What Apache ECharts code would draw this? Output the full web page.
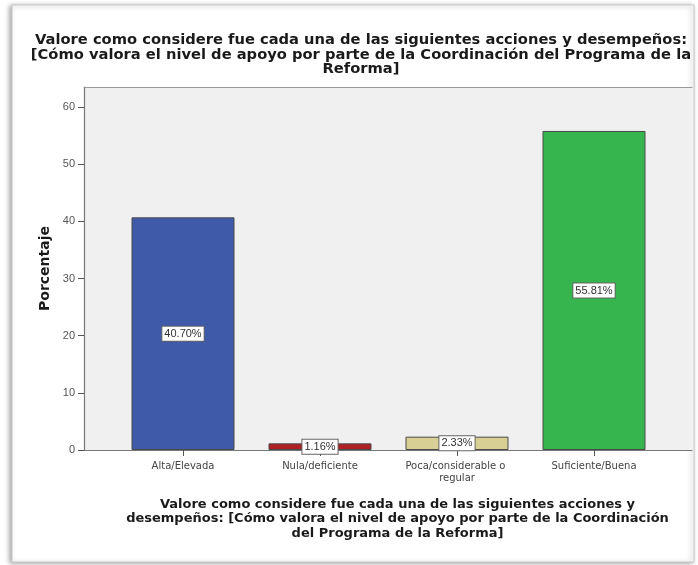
<!DOCTYPE html>
<html>
<head>
<meta charset="utf-8">
<script src="https://cdn.jsdelivr.net/npm/echarts@6/dist/echarts.min.js"></script>
<style>
  html, body { margin: 0; padding: 0; background: #ffffff; }
  #chart { width: 698px; height: 565px; }
</style>
</head>
<body>
<div id="chart"></div>
<script>
// Categories, percentages and axis ticks
const categories = ['Alta/Elevada', 'Nula/deficiente', 'Poca/considerable o regular', 'Suficiente/Buena'];
const percentages = [40.70, 1.16, 2.33, 55.81];
const barColors = ['#3f5aa9', '#b01f23', '#d8cf95', '#36b54f'];
const yTicks = [0, 10, 20, 30, 40, 50, 60];

const titleText = 'Valore como considere fue cada una de las siguientes acciones y desempeños:\n[Cómo valora el nivel de apoyo por parte de la Coordinación del Programa de la\nReforma]';
const xNameText = 'Valore como considere fue cada una de las siguientes acciones y\ndesempeños: [Cómo valora el nivel de apoyo por parte de la Coordinación\ndel Programa de la Reforma]';

const FONT = '"Liberation Sans", Arial, sans-serif';
const WIDE = '"DejaVu Sans", Verdana, sans-serif';
const Y_MAX = 63.5;

const chart = echarts.init(document.getElementById('chart'), null, { renderer: 'canvas' });

chart.setOption({
  backgroundColor: '#ffffff',
  animation: false,
  graphic: [
    {
      // panel frame
      type: 'rect',
      z: -10,
      shape: { x: 12, y: 5, width: 682, height: 557 },
      style: {
        fill: '#ffffff', stroke: '#c8c8c8', lineWidth: 1,
        shadowBlur: 5, shadowColor: 'rgba(0,0,0,0.35)', shadowOffsetX: -2, shadowOffsetY: 1
      }
    },
    {
      // chart title
      type: 'text',
      x: 361,
      y: 33,
      style: {
        text: titleText,
        align: 'center',
        verticalAlign: 'top',
        font: 'bold 14.7px ' + WIDE,
        lineHeight: 14.5,
        fill: '#1a1a1a'
      }
    }
  ],
  grid: [
    // plot frame with the value axis
    { left: 84, right: 6, top: 87, bottom: 115, show: true, backgroundColor: '#f0f0f0', borderWidth: 0 },
    // inner band holding the bars
    { left: 114.5, width: 548, top: 87, bottom: 115 }
  ],
  xAxis: [
    { gridIndex: 0, type: 'category', data: ['', ''], position: 'bottom',
      axisLine: { lineStyle: { color: '#777', width: 1.2 } }, axisTick: { show: false }, axisLabel: { show: false } },
    { gridIndex: 0, type: 'category', data: ['', ''], position: 'top',
      axisLine: { lineStyle: { color: '#999', width: 1 } }, axisTick: { show: false }, axisLabel: { show: false } },
    { gridIndex: 1, type: 'category', data: categories,
      axisLine: { show: false },
      axisTick: { show: true, alignWithLabel: true, length: 6, lineStyle: { color: '#555' } },
      axisLabel: { interval: 0, fontFamily: WIDE, fontSize: 10, color: '#444', margin: 10, width: 125, overflow: 'break', lineHeight: 12 },
      name: xNameText,
      nameLocation: 'middle',
      nameGap: 47,
      nameTextStyle: { fontFamily: WIDE, fontSize: 13, fontWeight: 'bold', color: '#1a1a1a', lineHeight: 14.5, padding: [0, 0, 0, 18] }
    }
  ],
  yAxis: [
    { gridIndex: 0, type: 'value', min: 0, max: Y_MAX, interval: 10,
      splitLine: { show: false },
      axisLine: { show: true, lineStyle: { color: '#777', width: 1.2 } },
      axisTick: { show: true, length: 6, customValues: yTicks, lineStyle: { color: '#555' } },
      axisLabel: { customValues: yTicks, fontFamily: FONT, fontSize: 11, color: '#555', margin: 9 },
      name: 'Porcentaje',
      nameLocation: 'middle',
      nameGap: 32,
      nameTextStyle: { fontFamily: WIDE, fontSize: 14, fontWeight: 'bold', color: '#1a1a1a' }
    },
    { gridIndex: 1, type: 'value', min: 0, max: Y_MAX, show: false, splitLine: { show: false } }
  ],
  series: [{
    type: 'bar',
    xAxisIndex: 2,
    yAxisIndex: 1,
    barWidth: 103,
    data: percentages.map((v, i) => ({
      value: v,
      itemStyle: { color: barColors[i], borderColor: '#4a4a4a', borderWidth: 1 }
    })),
    label: {
      show: true,
      position: 'inside',
      formatter: p => p.value.toFixed(2) + '%',
      fontFamily: FONT,
      fontSize: 11,
      color: '#333',
      backgroundColor: '#ffffff',
      borderColor: '#666',
      borderWidth: 1,
      padding: [2, 2, 1, 2]
    }
  }]
});
</script>
</body>
</html>
